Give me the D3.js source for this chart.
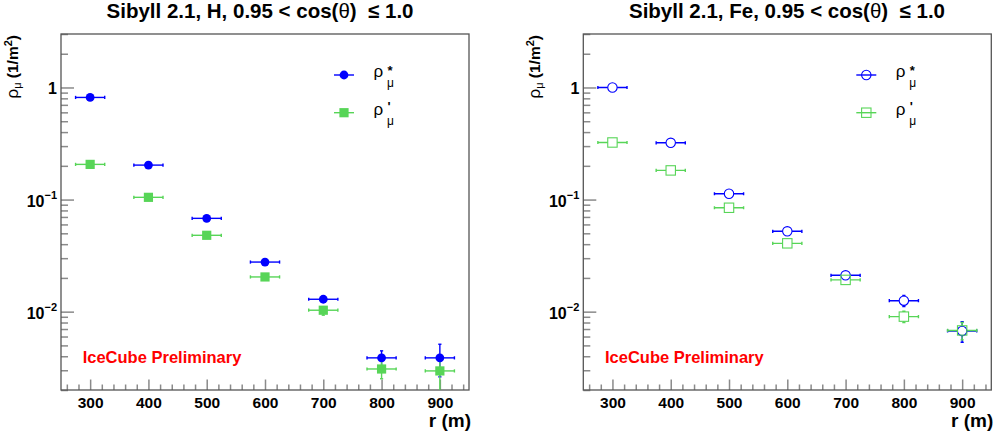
<!DOCTYPE html>
<html>
<head>
<meta charset="utf-8">
<script src="https://cdn.jsdelivr.net/npm/d3@7"></script>
<style>
  body { margin: 0; background: #fff; }
  svg { display: block; }
  text { font-family: "Liberation Sans", Arial, Helvetica, sans-serif; }
</style>
</head>
<body>
<svg id="chart" width="999" height="439"></svg>
<script>
// Lateral distance bins (m) and their half widths
const radius = [300, 400, 500, 600, 700, 800, 900];
const radiusErr = [25, 25, 25, 25, 25, 25, 25];

// Proton (H) muon densities, 1/m^2
const hStar = [0.815, 0.203, 0.068, 0.0277, 0.0129, 0.00387, 0.00387];
const hStarErr = [0.008, 0.003, 0.0012, 0.0005, 0.0004, 0.0006, 0.00125];
const hPrime = [0.206, 0.1047, 0.048, 0.0204, 0.0103, 0.00308, 0.00296];
const hPrimeErr = [0.004, 0.002, 0.001, 0.0005, 0.001, 0.00056, 0.001];

// Iron (Fe) muon densities, 1/m^2
const feStar = [1.0, 0.321, 0.1127, 0.0521, 0.0211, 0.01253, 0.00673];
const feStarErr = [0.01, 0.004, 0.0015, 0.0008, 0.0005, 0.0014, 0.0014];
const fePrime = [0.323, 0.182, 0.0845, 0.0407, 0.0192, 0.00903, 0.0068];
const fePrimeErr = [0.004, 0.002, 0.001, 0.0006, 0.0004, 0.00105, 0.0012];

// Axis ticks and labels
const xTickValues = [300, 400, 500, 600, 700, 800, 900];
const xTickLabels = ["300", "400", "500", "600", "700", "800", "900"];
const yTickValues = [1, 0.1, 0.01];
const yTickBase = ["1", "10", "10"];
const yTickExp = ["", "\u22121", "\u22122"];

const BLUE = "#0000ff";
const GREEN = "#57d557";
const FRAME = "#555555";
const TICK = "#8a8a8a";

const svg = d3.select("#chart");

const panels = [
  { x0: 61, star: hStar, starErr: hStarErr, prime: hPrime, primeErr: hPrimeErr, name: "H", filled: true, titleX: 260 },
  { x0: 583.3, star: feStar, starErr: feStarErr, prime: fePrime, primeErr: fePrimeErr, name: "Fe", filled: false, titleX: 787 }
];

const W = 408, TOP = 34, BOTTOM = 390;

// minor tick positions
const xMinor = d3.range(260, 950, 20).filter(v => v % 100 !== 0);
const yMinor = [];
[0.001, 0.01, 0.1, 1].forEach(d => d3.range(2, 10).forEach(m => {
  const v = m * d;
  if (v >= 0.002 && v <= 3) yMinor.push(v);
}));

panels.forEach(p => {
  const g = svg.append("g");
  const x = d3.scaleLinear().domain([250, 950]).range([p.x0, p.x0 + W]);
  const y = d3.scaleLog().domain([0.002, 3]).range([BOTTOM, TOP]);

  // title
  const t = g.append("text")
    .attr("x", p.titleX).attr("y", 18)
    .attr("text-anchor", "middle")
    .attr("font-size", 20.5).attr("font-weight", "bold").attr("fill", "#000");
  t.append("tspan").text("Sibyll 2.1, " + p.name + ", 0.95 < cos(");
  t.append("tspan").attr("font-weight", "normal").text("\u03b8");
  t.append("tspan").text(")\u00a0 \u2264 1.0");

  // clip for data
  const clipId = "clip" + p.name;
  svg.append("clipPath").attr("id", clipId).append("rect")
    .attr("x", p.x0).attr("y", TOP).attr("width", W).attr("height", BOTTOM - TOP);

  // x axis: major and minor ticks pointing inward
  const xAxis = d3.axisBottom(x).tickValues(xTickValues)
    .tickFormat((d, i) => xTickLabels[i]).tickSize(-10.5).tickSizeOuter(0).tickPadding(6.5);
  const gx = g.append("g").attr("transform", `translate(0,${BOTTOM})`).call(xAxis);
  gx.select(".domain").remove();
  gx.selectAll(".tick line").attr("stroke", TICK).attr("stroke-width", 1.5);
  gx.selectAll(".tick text").attr("font-size", 15.5).attr("font-weight", "bold")
    .attr("fill", "#000").attr("font-family", '"Liberation Sans", Arial, sans-serif');

  const xAxisMinor = d3.axisBottom(x).tickValues(xMinor).tickFormat("").tickSize(-5.5).tickSizeOuter(0);
  const gxm = g.append("g").attr("transform", `translate(0,${BOTTOM})`).call(xAxisMinor);
  gxm.select(".domain").remove();
  gxm.selectAll(".tick line").attr("stroke", TICK).attr("stroke-width", 1.5);

  // y axis: decades with exponent labels
  const yAxis = d3.axisLeft(y).tickValues(yTickValues).tickFormat("")
    .tickSize(-13).tickSizeOuter(0).tickPadding(4);
  const gy = g.append("g").attr("transform", `translate(${p.x0},0)`).call(yAxis);
  gy.select(".domain").remove();
  gy.selectAll(".tick line").attr("stroke", TICK).attr("stroke-width", 1.5);
  gy.selectAll(".tick text").each(function (d, i) {
    const txt = d3.select(this).attr("dy", null)
      .attr("font-family", '"Liberation Sans", Arial, sans-serif')
      .attr("font-weight", "bold").attr("fill", "#000");
    if (yTickExp[i] === "") {
      txt.attr("x", -4).attr("y", 6).attr("font-size", 16).text(yTickBase[i]);
    } else {
      txt.attr("x", -4).attr("y", 6.5).attr("font-size", 16);
      txt.append("tspan").text(yTickBase[i]);
      txt.append("tspan").attr("font-size", 11).attr("dy", -8).text(yTickExp[i]);
    }
  });

  const yAxisMinor = d3.axisLeft(y).tickValues(yMinor).tickFormat("").tickSize(-7).tickSizeOuter(0);
  const gym = g.append("g").attr("transform", `translate(${p.x0},0)`).call(yAxisMinor);
  gym.select(".domain").remove();
  gym.selectAll(".tick line").attr("stroke", TICK).attr("stroke-width", 1.5);

  // frame
  g.append("rect").attr("x", p.x0).attr("y", TOP).attr("width", W).attr("height", BOTTOM - TOP)
    .attr("fill", "none").attr("stroke", FRAME).attr("stroke-width", 1.3);

  // axis titles
  g.append("text").attr("x", p.x0 + W + 2).attr("y", 427)
    .attr("text-anchor", "end").attr("font-size", 19).attr("font-weight", "bold")
    .text("r (m)");

  const yl = g.append("text")
    .attr("transform", `translate(${p.x0 - 43},35) rotate(-90)`)
    .attr("text-anchor", "end").attr("font-size", 15.5).attr("font-weight", "bold");
  yl.append("tspan").attr("font-weight", "normal").attr("font-size", 17).text("\u03c1");
  yl.append("tspan").attr("font-weight", "normal").attr("font-size", 11).attr("dy", 3).text("\u03bc");
  yl.append("tspan").attr("dy", -3).text("\u00a0(1/m");
  yl.append("tspan").attr("font-size", 11).attr("dy", -6.5).text("2");
  yl.append("tspan").attr("dy", 6.5).text(")");

  // watermark
  g.append("text").attr("x", p.x0 + 21.7).attr("y", 363.3)
    .attr("font-size", 16.5).attr("font-weight", "bold").attr("fill", "#ff0000")
    .text("IceCube Preliminary");

  // data
  const data = g.append("g").attr("clip-path", `url(#${clipId})`);
  const series = [
    { vals: p.star, errs: p.starErr, color: BLUE, shape: "circle" },
    { vals: p.prime, errs: p.primeErr, color: GREEN, shape: "square" }
  ];
  const half = p.filled ? { circle: 4.4, square: 4.6 } : { circle: 4.7, square: 4.7 };

  series.forEach(s => {
    const r = half[s.shape];
    const gap = p.filled ? 0 : r;
    radius.forEach((rv, i) => {
      const v = s.vals[i], e = s.errs[i];
      const cx = x(rv), cy = y(v);
      const xl = x(rv - radiusErr[i]), xr = x(rv + radiusErr[i]);
      const yt = y(v + e), yb = y(Math.max(v - e, 1e-4));
      const line = (x1, y1, x2, y2) => data.append("line")
        .attr("x1", x1).attr("y1", y1).attr("x2", x2).attr("y2", y2)
        .attr("stroke", s.color).attr("stroke-width", 1.4);
      // horizontal bar with end caps
      line(xl, cy, cx - gap, cy);
      line(cx + gap, cy, xr, cy);
      line(xl, cy - 1.6, xl, cy + 1.6);
      line(xr, cy - 1.6, xr, cy + 1.6);
      // vertical bar with end caps, only outside the marker
      if (cy - yt > r) { line(cx, yt, cx, cy - gap); line(cx - 1.6, yt, cx + 1.6, yt); }
      if (yb - cy > r) { line(cx, cy + gap, cx, yb); line(cx - 1.6, yb, cx + 1.6, yb); }
    });
  });

  series.forEach(s => {
    const r = half[s.shape];
    radius.forEach((rv, i) => {
      const cx = x(rv), cy = y(s.vals[i]);
      const m = s.shape === "circle"
        ? data.append("circle").attr("cx", cx).attr("cy", cy).attr("r", r)
        : data.append("rect").attr("x", cx - r).attr("y", cy - r).attr("width", 2 * r).attr("height", 2 * r);
      if (p.filled) m.attr("fill", s.color);
      else m.attr("fill", "none").attr("stroke", s.color).attr("stroke-width", 1.1);
    });
  });

  // legend
  const legend = [
    { shape: "circle", color: BLUE, sup: "*", supDy: -2.5, y: 75 },
    { shape: "square", color: GREEN, sup: "'", supDy: -3.5, y: 112.7 }
  ];
  legend.forEach(L => {
    const mx = p.x0 + 283;
    const r = half[L.shape];
    g.append("line").attr("x1", mx - 10).attr("x2", mx + 10).attr("y1", L.y).attr("y2", L.y)
      .attr("stroke", L.color).attr("stroke-width", 1.4);
    const m = L.shape === "circle"
      ? g.append("circle").attr("cx", mx).attr("cy", L.y).attr("r", r)
      : g.append("rect").attr("x", mx - r).attr("y", L.y - r).attr("width", 2 * r).attr("height", 2 * r);
    if (p.filled) m.attr("fill", L.color);
    else m.attr("fill", "none").attr("stroke", L.color).attr("stroke-width", 1.1);
    const tx = p.x0 + 312.5;
    const lt = g.append("text").attr("x", tx).attr("y", L.y + 2).attr("font-size", 17);
    lt.append("tspan").text("\u03c1");
    lt.append("tspan").attr("x", tx + 14).attr("dy", L.supDy).attr("font-size", 13)
      .attr("font-weight", "bold").text(L.sup);
    lt.append("tspan").attr("x", tx + 13.5).attr("dy", 10 - L.supDy).attr("font-size", 12).text("\u03bc");
  });
});
</script>
</body>
</html>
